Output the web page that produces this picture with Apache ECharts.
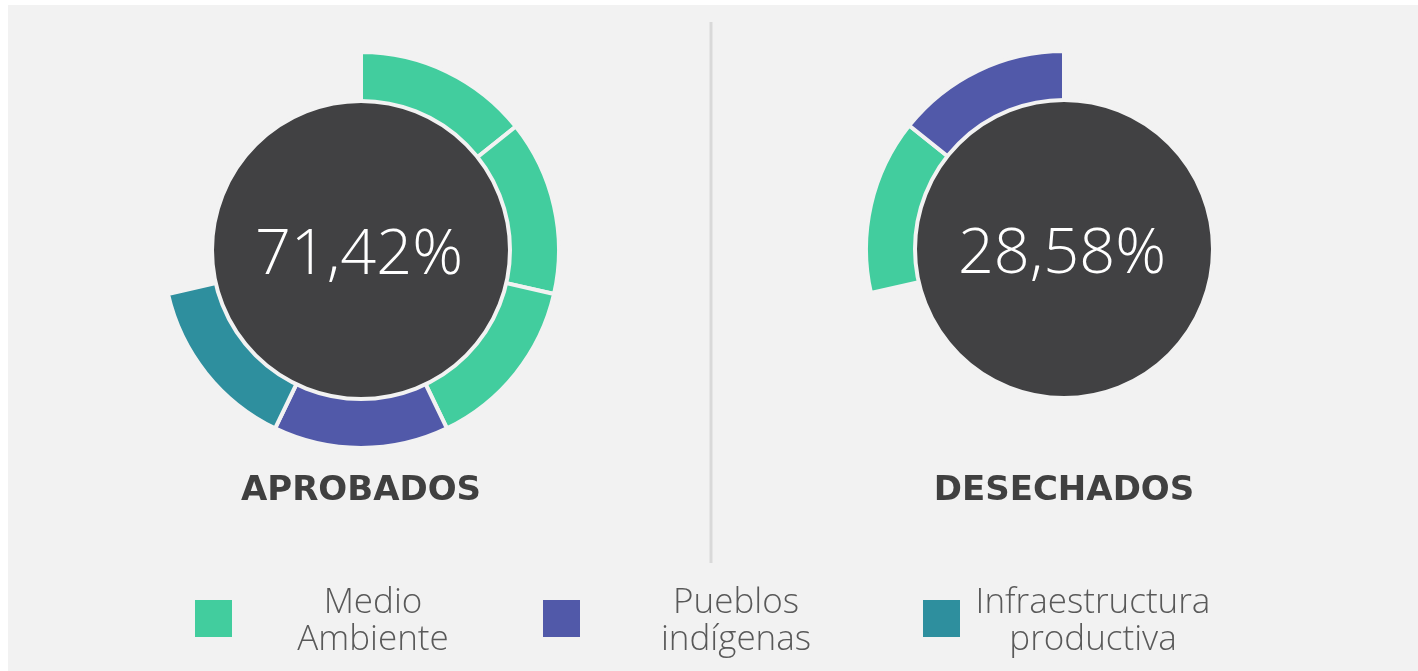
<!DOCTYPE html>
<html>
<head>
<meta charset="utf-8">
<script src="https://cdn.jsdelivr.net/npm/echarts@6/dist/echarts.min.js"></script>
<style>
  html, body { margin: 0; padding: 0; background: #fff; }
  #main { width: 1418px; height: 671px; }
</style>
</head>
<body>
<div id="main"></div>
<script>
// categorias y colores
const categories = ['Medio Ambiente', 'Pueblos indígenas', 'Infraestructura productiva'];
const legendLabels = ['Medio\nAmbiente', 'Pueblos\nindígenas', 'Infraestructura\nproductiva'];
const colors = ['#42CD9E', '#5159A9', '#2E8F9E'];

// cada proyecto es un segmento, total 7
const totalProyectos = 7;
const aprobados = ['Medio Ambiente', 'Medio Ambiente', 'Medio Ambiente', 'Pueblos indígenas', 'Infraestructura productiva'];
const desechados = ['Medio Ambiente', 'Pueblos indígenas'];
const porcentajes = ['71,42%', '28,58%'];
const titulos = ['APROBADOS', 'DESECHADOS'];

const chart = echarts.init(document.getElementById('main'));

const BG = '#f2f2f2';
const DARK = '#414143';
const LIGHT_FONT = '"Open Sans", sans-serif';
const BOLD_FONT = '"DejaVu Sans", sans-serif';

// arma los segmentos del anillo, los vacios quedan transparentes
function ringData(items, offset) {
    var data = [];
    for (var i = 0; i < totalProyectos; i++) {
        var k = i - offset;
        if (k >= 0 && k < items.length) {
            var c = colors[categories.indexOf(items[k])];
            data.push({ value: 1, name: items[k], itemStyle: { color: c } });
        } else {
            data.push({ value: 1, name: '', itemStyle: { color: 'transparent', borderWidth: 0 } });
        }
    }
    return data;
}

function ring(center, items, offset) {
    return {
        type: 'pie',
        center: center,
        radius: [140, 198],
        startAngle: 90,
        clockwise: true,
        silent: true,
        label: { show: false },
        labelLine: { show: false },
        itemStyle: { borderColor: BG, borderWidth: 4 },
        data: ringData(items, offset),
        z: 2
    };
}

function centro(center, texto) {
    return {
        type: 'pie',
        center: center,
        radius: [0, 149],
        silent: true,
        z: 3,
        itemStyle: { color: DARK, borderColor: BG, borderWidth: 4 },
        label: { show: false },
        labelLine: { show: false },
        data: [{ value: 1, name: texto }]
    };
}

var centers = [[361, 250], [1064, 249]];

var graphics = [
    { type: 'rect', shape: { x: 8, y: 5, width: 1410, height: 666 }, style: { fill: BG }, z: -10 },
    { type: 'line', shape: { x1: 711, y1: 22, x2: 711, y2: 563 }, style: { stroke: '#d9d9d9', lineWidth: 3 }, z: -5 }
];

// porcentaje en el centro de cada circulo
porcentajes.forEach(function (p, i) {
    graphics.push({
        type: 'text',
        x: centers[i][0] - 2,
        y: centers[i][1] + 6,
        z: 100,
        style: {
            text: p,
            fill: '#fff',
            font: '300 63px ' + LIGHT_FONT,
            textAlign: 'center',
            textVerticalAlign: 'middle'
        }
    });
});

// leyenda manual
var legendSquareX = [195, 543, 923];
var legendTextX = [373, 736, 1093];
categories.forEach(function (cat, i) {
    graphics.push({
        type: 'rect',
        shape: { x: legendSquareX[i], y: 600, width: 37, height: 37 },
        style: { fill: colors[i] }
    });
    graphics.push({
        type: 'text',
        x: legendTextX[i],
        y: 622,
        style: {
            text: legendLabels[i],
            fill: '#595959',
            font: '300 35px ' + LIGHT_FONT,
            lineHeight: 37,
            textAlign: 'center',
            textVerticalAlign: 'middle'
        }
    });
});

var option = {
    backgroundColor: '#fff',
    animation: false,
    title: titulos.map(function (t, i) {
        return {
            text: t,
            left: centers[i][0],
            top: 474,
            padding: 0,
            textAlign: 'center',
            textStyle: { color: '#404040', fontSize: 34, fontWeight: 'bold', fontFamily: BOLD_FONT }
        };
    }),
    graphic: graphics,
    series: [
        ring(centers[0], aprobados, 0),
        centro(centers[0], porcentajes[0]),
        ring(centers[1], desechados, totalProyectos - desechados.length),
        centro(centers[1], porcentajes[1])
    ]
};

chart.setOption(option);
</script>
</body>
</html>
